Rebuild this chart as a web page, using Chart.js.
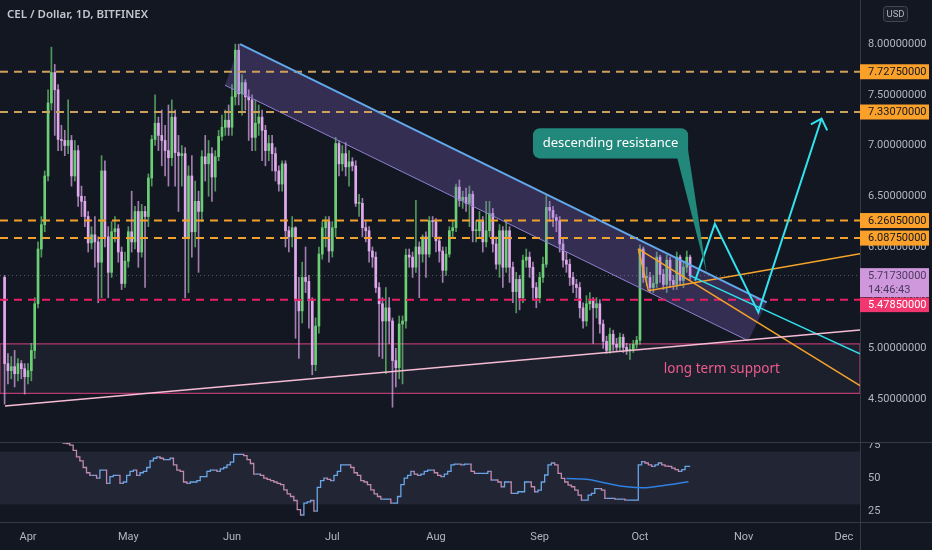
<!DOCTYPE html>
<html>
<head>
<meta charset="utf-8">
<script src="https://cdn.jsdelivr.net/npm/chart.js@4.4.1/dist/chart.umd.min.js"></script>
<style>
  html, body { margin: 0; padding: 0; background: #131722; }
  #wrap { position: relative; width: 932px; height: 550px; overflow: hidden; background: #131722; }
  canvas { position: absolute; left: 0; }
  #priceChart { top: 0; }
  #rsiChart { top: 442px; }
</style>
</head>
<body>
<div id="wrap">
  <canvas id="priceChart" width="932" height="442"></canvas>
  <canvas id="rsiChart" width="932" height="108"></canvas>
</div>
<script>
// daily candles, first one is Mar 25 (index 0), last one Oct 17
const firstOpen = 5.70;
const closes = [
  4.85, 4.78, 4.82, 4.75, 4.85, 4.80, 4.72, 4.78, 4.98, 5.44,
  5.98, 6.22, 6.70, 7.42, 7.72, 7.55, 7.06, 7.05, 7.00, 7.05,
  6.70, 6.95, 6.50, 6.45, 6.30, 6.04, 6.12, 6.05, 5.85, 6.75,
  6.10, 5.75, 6.15, 6.18, 5.95, 5.64, 5.86, 6.15, 6.05, 6.35,
  5.95, 6.35, 6.30, 6.68, 7.06, 7.22, 7.10, 7.05, 6.95, 6.88,
  7.28, 6.93, 6.90, 6.92, 6.09, 6.70, 6.15, 6.45, 6.35, 6.89,
  6.82, 6.92, 6.69, 6.89, 7.09, 7.18, 7.25, 7.18, 7.48, 7.94,
  7.51, 7.62, 7.48, 7.45, 7.08, 7.22, 7.28, 7.15, 6.95, 7.02,
  6.92, 6.75, 6.62, 6.82, 6.16, 6.10, 6.19, 5.47, 5.37, 5.70,
  5.66, 5.47, 4.84, 5.22, 5.93, 6.19, 6.25, 5.96, 6.19, 7.02,
  6.82, 6.92, 6.79, 6.84, 6.80, 6.43, 6.43, 6.19, 6.16, 5.96,
  5.90, 5.60, 5.44, 5.27, 5.40, 5.27, 4.88, 4.81, 5.24, 5.27,
  5.92, 5.90, 5.80, 6.00, 5.93, 6.10, 5.93, 6.26, 6.25, 6.06,
  5.96, 5.77, 5.93, 6.16, 6.19, 6.59, 6.46, 6.49, 6.43, 6.52,
  6.16, 6.16, 6.26, 6.05, 6.16, 6.33, 6.03, 5.83, 6.16, 5.80,
  6.16, 5.80, 5.56, 5.68, 5.50, 5.87, 5.90, 5.80, 5.60, 5.50,
  5.70, 5.83, 6.39, 6.36, 6.29, 6.26, 6.03, 5.87, 5.83, 5.70,
  5.63, 5.60, 5.40, 5.27, 5.44, 5.47, 5.40, 5.44, 5.24, 5.07,
  4.98, 5.14, 5.04, 5.01, 5.11, 5.01, 4.98, 4.99, 5.04, 5.08,
  5.98, 5.70, 5.70, 5.60, 5.64, 5.90, 5.73, 5.63, 5.87, 5.67,
  5.63, 5.90, 5.67, 5.80, 5.90, 5.7173
];
const highs = [
  5.72, 4.95, 4.92, 4.98, 4.90, 4.88, 4.85, 4.85, 5.05, 5.50,
  6.05, 6.30, 6.75, 7.55, 7.97, 7.80, 7.60, 7.20, 7.15, 7.45,
  7.10, 7.05, 7.00, 6.60, 6.50, 6.35, 6.20, 6.30, 6.10, 6.90,
  6.85, 6.20, 6.25, 6.30, 6.22, 6.00, 5.95, 6.20, 6.55, 6.40,
  6.45, 6.42, 6.40, 6.72, 7.10, 7.50, 7.28, 7.35, 7.20, 7.40,
  7.45, 7.35, 7.10, 7.00, 6.98, 6.80, 6.90, 6.65, 6.55, 6.95,
  7.10, 7.05, 6.98, 6.95, 7.15, 7.30, 7.35, 7.40, 7.60, 8.00,
  8.00, 7.70, 7.65, 7.55, 7.50, 7.45, 7.40, 7.35, 7.20, 7.10,
  7.10, 6.98, 6.80, 6.85, 6.85, 6.20, 6.30, 6.20, 5.70, 5.85,
  6.00, 5.72, 5.50, 5.30, 6.00, 6.25, 6.30, 6.30, 6.25, 7.08,
  7.05, 7.00, 7.03, 6.95, 6.88, 6.85, 6.52, 6.48, 6.25, 6.20,
  6.00, 5.95, 5.65, 5.50, 5.60, 5.50, 5.30, 5.00, 5.32, 5.32,
  5.98, 5.98, 5.95, 6.46, 6.05, 6.12, 6.15, 6.30, 6.30, 6.28,
  6.10, 6.00, 6.00, 6.20, 6.25, 6.62, 6.66, 6.55, 6.58, 6.60,
  6.55, 6.26, 6.35, 6.30, 6.45, 6.45, 6.38, 6.10, 6.22, 6.20,
  6.26, 6.20, 5.85, 5.75, 5.72, 5.92, 5.98, 5.95, 5.85, 5.65,
  5.75, 5.90, 6.51, 6.45, 6.40, 6.32, 6.30, 6.08, 5.95, 5.88,
  5.75, 5.68, 5.65, 5.45, 5.52, 5.55, 5.50, 5.50, 5.48, 5.28,
  5.12, 5.20, 5.18, 5.10, 5.15, 5.14, 5.05, 5.04, 5.08, 5.12,
  6.02, 6.00, 5.80, 5.75, 5.72, 5.95, 5.92, 5.78, 5.92, 5.90,
  5.72, 5.95, 5.92, 5.85, 5.96, 5.92
];
const lows = [
  4.45, 4.65, 4.70, 4.62, 4.68, 4.70, 4.55, 4.65, 4.68, 4.90,
  5.40, 5.90, 6.15, 6.65, 7.35, 7.10, 6.95, 6.95, 6.90, 6.92,
  6.60, 6.65, 6.40, 6.30, 6.20, 5.95, 5.98, 5.80, 5.45, 5.50,
  6.00, 5.50, 5.70, 6.05, 5.85, 5.58, 5.60, 5.80, 5.95, 5.98,
  5.80, 5.90, 5.60, 6.20, 6.60, 7.00, 6.95, 6.80, 6.70, 6.60,
  6.80, 6.60, 6.35, 6.60, 5.50, 5.55, 5.90, 6.00, 5.75, 6.25,
  6.65, 6.50, 6.45, 6.55, 6.85, 7.05, 7.10, 7.10, 7.10, 7.40,
  7.40, 7.30, 7.35, 7.05, 6.95, 6.95, 7.10, 6.85, 6.80, 6.85,
  6.75, 6.65, 6.55, 6.55, 6.00, 5.95, 6.00, 5.10, 4.90, 5.25,
  5.55, 5.20, 4.74, 4.78, 5.15, 5.88, 6.00, 5.85, 5.90, 6.10,
  6.70, 6.75, 6.70, 6.60, 6.75, 6.40, 6.30, 6.10, 6.05, 5.85,
  5.80, 5.55, 4.92, 4.90, 4.75, 5.05, 4.42, 4.62, 4.70, 4.65,
  5.20, 5.80, 5.70, 5.75, 5.50, 5.85, 5.70, 5.90, 6.10, 5.95,
  5.85, 5.65, 5.72, 5.90, 6.10, 6.15, 6.40, 6.38, 6.35, 6.20,
  6.05, 6.05, 6.10, 5.95, 6.00, 6.10, 5.95, 5.78, 5.70, 5.60,
  5.75, 5.65, 5.45, 5.35, 5.38, 5.45, 5.80, 5.70, 5.48, 5.40,
  5.45, 5.65, 5.80, 6.25, 6.20, 6.15, 5.95, 5.80, 5.75, 5.62,
  5.55, 5.50, 5.30, 5.20, 5.22, 5.38, 5.05, 5.30, 5.15, 5.00,
  4.95, 4.95, 4.98, 4.97, 4.98, 4.96, 4.94, 4.89, 4.96, 5.00,
  5.04, 5.65, 5.62, 5.55, 5.55, 5.60, 5.65, 5.58, 5.55, 5.60,
  5.58, 5.58, 5.62, 5.60, 5.75, 5.68
];

// RSI(14) starts at candle 14
const rsiStart = 14;
const rsiValues = [
  82, 80, 78, 78, 76.5, 76, 75, 71, 66, 63,
  58, 54, 52, 52, 50, 56, 56, 46, 51, 52,
  52, 46, 47, 52, 55, 56, 52, 54, 55, 58,
  63, 65, 66, 65, 64, 64, 65, 60, 56, 55,
  47, 46, 47, 47, 48, 51, 51, 55, 56, 56,
  55, 57, 58, 60, 62, 68, 68, 68, 67, 64,
  61, 53, 53, 52, 50, 49, 48, 47, 46, 45,
  41, 38, 36, 33, 26, 22, 31, 32, 33, 25,
  43, 48, 50, 49, 48, 52, 55, 60, 60, 60,
  58, 54, 52, 48, 47, 45, 41, 38, 36, 34,
  34, 34, 31, 31, 36, 45, 50, 52, 55, 53,
  52, 53, 55, 56, 56, 54, 52, 51, 53, 55,
  60, 60.5, 60.5, 60, 60.5, 60.5, 55, 53.5, 53.5, 53.5,
  53.5, 55, 48.5, 48.5, 47, 43.4, 47, 47, 38.4, 38.4,
  39.6, 39.6, 47, 47, 43.4, 39.6, 40.9, 47, 52.3, 60,
  61.4, 60, 53.5, 49.7, 47, 44.7, 43.4, 40.9, 37.1, 33.3,
  33.3, 37, 38.4, 42, 42, 40.9, 34.6, 34.6, 34.6, 34,
  34, 34, 33.3, 33.3, 33.3, 33.3, 60, 62.4, 61.4, 60,
  58.8, 60, 61.4, 60, 59, 58.8, 57.5, 56.4, 55, 56.4,
  58.8, 58.8
];
const rsiMaDays = [168, 174, 180, 186, 192, 198, 204.5];
const rsiMaValues = [49.7, 49, 46, 43.4, 42.7, 44.7, 47.2];

// axis ticks
const priceTicks = [4.5, 5.0, 5.5, 6.0, 6.5, 7.0, 7.5, 8.0];
const rsiTicks = [25, 50, 75];
const monthDays = [7, 37, 68, 98, 129, 160, 190, 221, 251];
const monthNames = ["Apr", "May", "Jun", "Jul", "Aug", "Sep", "Oct", "Nov", "Dec"];

// horizontal levels
const orangeLevels = [7.7275, 7.3307, 6.2605, 6.0875];
const pinkLevel = 5.4785;
const lastPrice = 5.7173;
const lastTime = "14:46:43";

// drawings, as [day, price]
const channelPts = [[70.4, 8.0], [227.9, 5.454], [222.4, 5.075], [65.9, 7.595], [70.4, 8.0]];
const resistancePts = [[70.4, 8.0], [227.9, 5.454]];
const channelLowPts = [[65.9, 7.595], [222.4, 5.075]];
const cyanPts = [[204.97, 5.717], [255.8, 4.947]];
const pathPts = [[206.5, 5.668], [212.4, 6.228], [225.4, 5.355], [244.3, 7.266]];
const arrowPts = [[241.1, 7.209], [244.3, 7.266], [246.0, 7.150]];
const orangeDownPts = [[189.5, 5.981], [255.8, 4.634]];
const orangeUpPts = [[192.5, 5.569], [255.8, 5.932]];
const orangeSidePts = [[189.5, 5.981], [192.5, 5.569]];
const supportPts = [[0.12, 4.433], [255.8, 5.181]];
const zoneTop = 5.045, zoneBottom = 4.556;
const calloutBox = { left: 158.0, right: 204.4, top: 7.17, bottom: 6.873 };
const calloutTip = [210.0, 5.734];
const supportLabelAt = [214.5, 4.798];

const xMin = -1.373, xMax = 255.8;

const upColor = "#6ccf76";
const downColor = "#dfa9ec";
const axisText = "#b2b5be";
const lineGrey = "#363a45";

const opens = closes.map((c, i) => (i === 0 ? firstOpen : closes[i - 1]));
const days = closes.map((c, i) => i);

function pts(list) {
  return list.map(p => ({ x: p[0], y: p[1] }));
}
function lineSet(list, color, width, dash, order) {
  return {
    type: "line",
    data: pts(list),
    borderColor: color,
    borderWidth: width,
    borderDash: dash || [],
    pointRadius: 0,
    fill: false,
    tension: 0,
    order: order || 5,
  };
}
function levelSet(v, color, dash, width) {
  return lineSet([[xMin, v], [xMax, v]], color, width || 2, dash, 8);
}
function roundRect(ctx, x, y, w, h, r) {
  ctx.beginPath();
  ctx.moveTo(x + r, y);
  ctx.lineTo(x + w - r, y);
  ctx.arcTo(x + w, y, x + w, y + r, r);
  ctx.lineTo(x + w, y + h - r);
  ctx.arcTo(x + w, y + h, x + w - r, y + h, r);
  ctx.lineTo(x + r, y + h);
  ctx.arcTo(x, y + h, x, y + h - r, r);
  ctx.lineTo(x, y + r);
  ctx.arcTo(x, y, x + r, y, r);
  ctx.closePath();
}

// callout, support text, price labels on the axis, title
const pricePlugin = {
  id: "pricePlugin",
  afterDatasetsDraw(chart) {
    const { ctx, scales: { x, y } } = chart;
    ctx.save();
    // callout tail + box
    const bl = x.getPixelForValue(calloutBox.left);
    const br = x.getPixelForValue(calloutBox.right);
    const bt = y.getPixelForValue(calloutBox.top);
    const bb = y.getPixelForValue(calloutBox.bottom);
    ctx.fillStyle = "#21887b";
    ctx.beginPath();
    ctx.moveTo(br - 11, bb - 1);
    ctx.lineTo(br, bb - 8);
    ctx.lineTo(x.getPixelForValue(calloutTip[0]), y.getPixelForValue(calloutTip[1]));
    ctx.closePath();
    ctx.fill();
    roundRect(ctx, bl, bt, br - bl, bb - bt, 7);
    ctx.fill();
    ctx.fillStyle = "#ffffff";
    ctx.font = "13px 'Noto Sans'";
    ctx.textAlign = "center";
    ctx.textBaseline = "middle";
    ctx.fillText("descending resistance", (bl + br) / 2, (bt + bb) / 2);
    // support label
    ctx.fillStyle = "#ee5b8c";
    ctx.font = "13.5px 'Noto Sans'";
    ctx.fillText("long term support", x.getPixelForValue(supportLabelAt[0]), y.getPixelForValue(supportLabelAt[1]));
    ctx.restore();
  },
  afterDraw(chart) {
    const { ctx, chartArea, scales: { y } } = chart;
    const lx = chartArea.right;
    const w = 69;
    ctx.save();
    ctx.font = "11px Roboto";
    ctx.textAlign = "left";
    ctx.textBaseline = "middle";
    orangeLevels.forEach(v => {
      const py = y.getPixelForValue(v);
      ctx.fillStyle = "#fba12a";
      ctx.fillRect(lx, py - 7.5, w, 15);
      ctx.fillStyle = "#131722";
      ctx.fillText(v.toFixed(8), lx + 8, py + 0.5);
    });
    const cy = y.getPixelForValue(lastPrice);
    const cTop = cy - 7.5;
    ctx.fillStyle = "#cf97dc";
    ctx.fillRect(lx, cTop, w, 29);
    ctx.fillStyle = "#4a3a5e";
    ctx.fillText(lastPrice.toFixed(8), lx + 8, cy + 0.5);
    ctx.fillText(lastTime, lx + 8, cy + 15);
    const py = y.getPixelForValue(pinkLevel);
    const pTop = Math.max(py - 7.5, cTop + 29.5);
    ctx.fillStyle = "#f23670";
    ctx.fillRect(lx, pTop, w, 14.5);
    ctx.fillStyle = "#ffffff";
    ctx.fillText(pinkLevel.toFixed(8), lx + 8, pTop + 7.5);
    // currency badge
    ctx.fillStyle = "#1c202b";
    ctx.strokeStyle = "#434651";
    ctx.lineWidth = 1;
    roundRect(ctx, 883.5, 6.5, 24, 15, 3);
    ctx.fill();
    ctx.stroke();
    ctx.fillStyle = axisText;
    ctx.font = "9.5px Roboto";
    ctx.textAlign = "center";
    ctx.fillText("USD", 895.5, 14.5);
    // title
    ctx.fillStyle = "#c3c5cc";
    ctx.font = "600 11.5px 'Noto Sans'";
    ctx.textAlign = "left";
    ctx.fillText("CEL / Dollar, 1D, BITFINEX", 7, 15);
    ctx.restore();
  },
};

new Chart(document.getElementById("priceChart"), {
  type: "bar",
  data: {
    datasets: [
      // zone between the two pink lines
      {
        type: "line",
        data: pts([[xMin, zoneTop], [xMax, zoneTop], [xMax, zoneBottom], [xMin, zoneBottom], [xMin, zoneTop]]),
        borderColor: "#b23a6f",
        borderWidth: 1.2,
        backgroundColor: "rgba(190,180,215,0.06)",
        fill: "shape",
        pointRadius: 0,
        order: 20,
      },
      {
        type: "bar",
        data: days.map(i => ({ x: i, y: [lows[i], highs[i]] })),
        backgroundColor: days.map(i => (closes[i] >= opens[i] ? "rgba(108,207,118,0.7)" : "rgba(223,169,236,0.7)")),
        barThickness: 1,
        grouped: false,
        order: 16,
      },
      {
        type: "bar",
        data: days.map(i => ({ x: i, y: [opens[i], closes[i]] })),
        backgroundColor: days.map(i => (closes[i] >= opens[i] ? upColor : downColor)),
        barThickness: 2,
        minBarLength: 1,
        grouped: false,
        order: 15,
      },
      // channel
      {
        type: "line",
        data: pts(channelPts),
        borderColor: "rgba(0,0,0,0)",
        borderWidth: 0,
        backgroundColor: "rgba(140,110,210,0.28)",
        fill: "shape",
        pointRadius: 0,
        order: 12,
      },
      lineSet(channelLowPts, "#8f7fd0", 1, null, 11),
      levelSet(lastPrice, "rgba(150,152,161,0.55)", [1, 3], 1),
      ...orangeLevels.map((v, k) => levelSet(v, k < 2 ? "#cda15c" : "#f0a22e", [8, 6])),
      levelSet(pinkLevel, "#e91e63", [8, 6]),
      lineSet(supportPts, "#f6bcd4", 1.5),
      lineSet(resistancePts, "#62a8ea", 2),
      lineSet(cyanPts, "#2fdfeb", 1.5),
      lineSet(orangeDownPts, "#f5a32b", 1.5),
      lineSet(orangeUpPts, "#f5a32b", 1.5),
      lineSet(orangeSidePts, "#f5a32b", 1.5),
      lineSet(pathPts, "#33e2ee", 2, null, 2),
      lineSet(arrowPts, "#33e2ee", 2, null, 2),
    ],
  },
  options: {
    responsive: false,
    animation: false,
    events: [],
    layout: { padding: 0 },
    plugins: { legend: { display: false }, tooltip: { enabled: false } },
    scales: {
      x: {
        type: "linear",
        min: xMin,
        max: xMax,
        offset: false,
        display: false,
      },
      y: {
        type: "linear",
        position: "right",
        min: 4.077,
        max: 8.435,
        grid: { display: false, drawTicks: false },
        border: { display: true, color: lineGrey },
        ticks: {
          color: axisText,
          font: { family: "Roboto", size: 11 },
          padding: 8,
          callback: v => Number(v).toFixed(8),
        },
        afterBuildTicks: s => { s.ticks = priceTicks.map(v => ({ value: v })); },
        afterFit: s => { s.width = 72; s.paddingTop = 0; s.paddingBottom = 0; },
      },
    },
  },
  plugins: [pricePlugin],
});

const rsiPlugin = {
  id: "rsiPlugin",
  beforeDatasetsDraw(chart) {
    const { ctx, chartArea, scales: { y } } = chart;
    ctx.save();
    ctx.fillStyle = "rgba(150,140,185,0.12)";
    const t = y.getPixelForValue(70), b = y.getPixelForValue(30);
    ctx.fillRect(chartArea.left, t, chartArea.right - chartArea.left, b - t);
    ctx.restore();
  },
  afterDraw(chart) {
    const { ctx, chartArea, width, height } = chart;
    ctx.save();
    ctx.strokeStyle = lineGrey;
    ctx.lineWidth = 1;
    ctx.beginPath();
    ctx.moveTo(0, 0.5); ctx.lineTo(width, 0.5);
    ctx.moveTo(0, chartArea.bottom + 0.5); ctx.lineTo(width, chartArea.bottom + 0.5);
    ctx.moveTo(chartArea.right + 0.5, 0); ctx.lineTo(chartArea.right + 0.5, height);
    ctx.stroke();
    ctx.restore();
  },
};

new Chart(document.getElementById("rsiChart"), {
  type: "line",
  data: {
    datasets: [
      {
        data: rsiValues.map((v, k) => ({ x: k + rsiStart, y: v })),
        borderWidth: 1.3,
        borderColor: "#8a8fa0",
        stepped: "middle",
        pointRadius: 0,
        segment: {
          borderColor: c => (c.p1.parsed.y >= c.p0.parsed.y ? "#6aa6e8" : "#c08aaf"),
        },
        order: 2,
      },
      {
        data: rsiMaDays.map((d, k) => ({ x: d, y: rsiMaValues[k] })),
        borderColor: "#2f80e0",
        borderWidth: 1.5,
        pointRadius: 0,
        tension: 0.4,
        order: 1,
      },
    ],
  },
  options: {
    responsive: false,
    animation: false,
    events: [],
    layout: { padding: 0 },
    plugins: { legend: { display: false }, tooltip: { enabled: false } },
    scales: {
      x: {
        type: "linear",
        min: xMin,
        max: xMax,
        offset: false,
        grid: { display: false, drawTicks: false },
        border: { display: false },
        ticks: {
          color: axisText,
          font: { family: "Roboto", size: 11 },
          padding: 9,
          maxRotation: 0,
          autoSkip: false,
          callback: v => monthNames[monthDays.indexOf(v)],
        },
        afterBuildTicks: s => { s.ticks = monthDays.map(v => ({ value: v })); },
        afterFit: s => { s.height = 28; s.paddingLeft = 0; s.paddingRight = 0; },
      },
      y: {
        type: "linear",
        position: "right",
        min: 16.7,
        max: 77.3,
        grid: { display: false, drawTicks: false },
        border: { display: false },
        ticks: {
          color: axisText,
          font: { family: "Roboto", size: 11 },
          padding: 8,
        },
        afterBuildTicks: s => { s.ticks = rsiTicks.map(v => ({ value: v })); },
        afterFit: s => { s.width = 72; s.paddingTop = 0; s.paddingBottom = 0; },
      },
    },
  },
  plugins: [rsiPlugin],
});
</script>
</body>
</html>
